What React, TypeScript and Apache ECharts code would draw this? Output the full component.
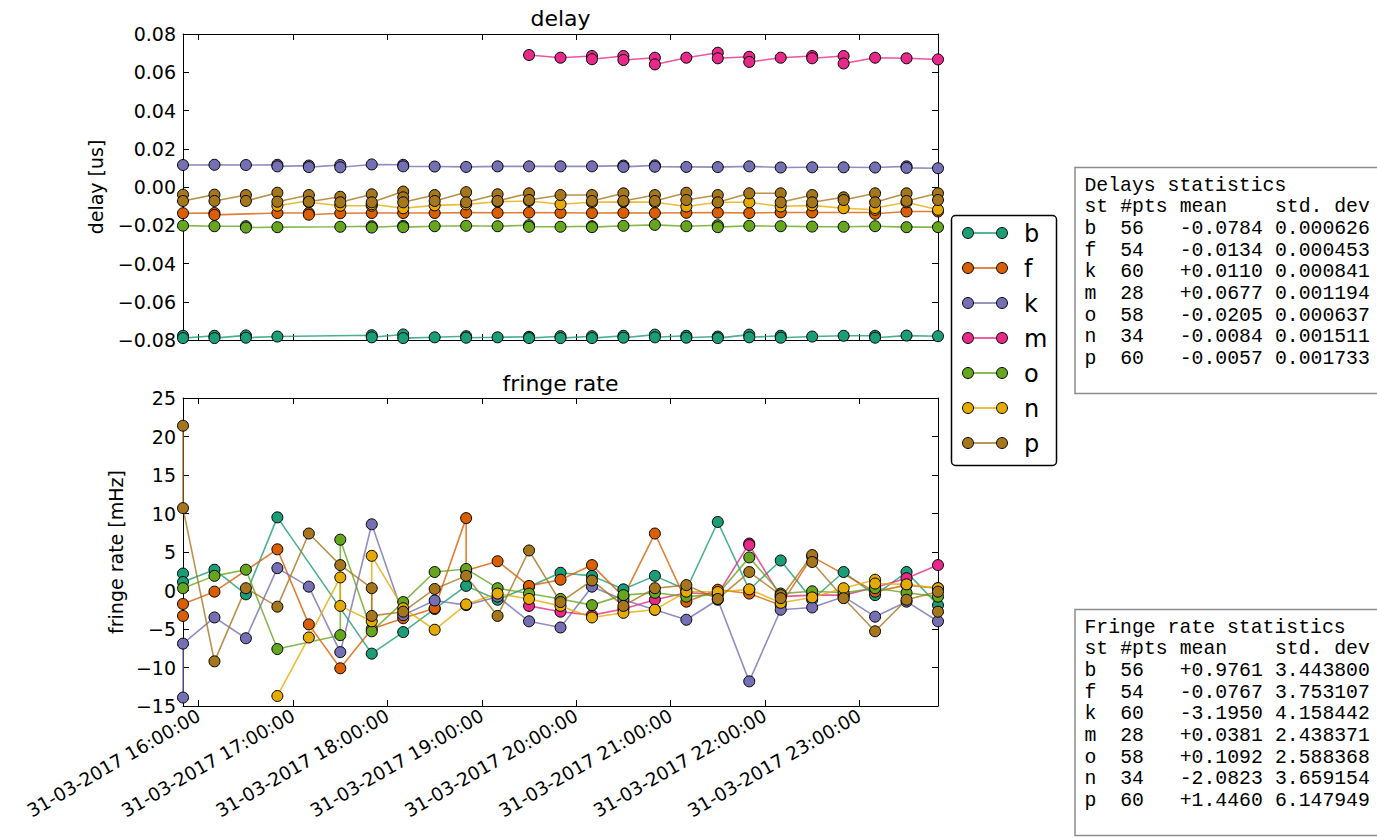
import React, { useEffect, useRef } from "react";
import * as echarts from "echarts";

const stations = ["b", "f", "k", "m", "o", "n", "p"];
const colors = ["#1b9e77", "#d95f02", "#7570b3", "#e7298a", "#66a61e", "#e6ab02", "#a6761d"];

const scanTimes = [
  "15:50", "16:10", "16:30", "16:50", "17:10", "17:30", "17:50", "18:10", "18:30",
  "18:50", "19:10", "19:30", "19:50", "20:10", "20:30", "20:50", "21:10", "21:30",
  "21:50", "22:10", "22:30", "22:50", "23:10", "23:30", "23:50",
];
const hourTicks = ["16:00", "17:00", "18:00", "19:00", "20:00", "21:00", "22:00", "23:00"];

type V = number | number[] | null;

const delayB: V[] = [[-0.0778, -0.079], [-0.0778, -0.079], [-0.0776, -0.0788], -0.0782, null, null, [-0.0775, -0.0786], [-0.0771, -0.079], -0.0786, [-0.078, -0.0788], -0.0786, [-0.0783, -0.079], [-0.078, -0.079], [-0.078, -0.079], [-0.0778, -0.0788], [-0.0772, -0.0786], [-0.0778, -0.0788], [-0.0782, -0.079], [-0.0772, -0.0786], [-0.0778, -0.0788], -0.0782, -0.0778, [-0.0778, -0.0788], -0.0777, -0.078];
const delayF: V[] = [-0.0137, [-0.0136, -0.0146], null, -0.0136, [-0.0136, -0.0145], -0.0137, -0.0136, -0.0136, -0.0136, -0.0134, -0.0135, -0.0134, -0.0135, -0.0136, -0.0135, -0.0136, -0.0135, -0.0134, -0.0136, -0.0133, -0.0133, null, [-0.0133, -0.014], -0.0128, -0.0128];
const delayK: V[] = [0.0115, 0.0116, 0.0115, [0.0116, 0.0108], [0.0112, 0.0104], [0.0115, 0.0103], 0.0118, [0.0116, 0.0108], 0.0107, 0.0105, 0.0108, 0.0108, 0.0108, 0.0108, [0.0112, 0.0105], [0.0113, 0.0106], 0.0105, 0.0104, 0.0108, 0.0102, 0.0103, 0.0103, 0.0102, [0.0108, 0.01], 0.0098];
const delayM: V[] = [null, null, null, null, null, null, null, null, null, null, null, 0.069, 0.0676, [0.0685, 0.0668], [0.0685, 0.0664], [0.0676, 0.0641], 0.0676, [0.0702, 0.0673], [0.0681, 0.0654], 0.0676, [0.0685, 0.0673], [0.0685, 0.0646], 0.0676, 0.0673, 0.0667];
const delayO: V[] = [-0.0202, -0.0205, [-0.0205, -0.0212], -0.021, null, -0.0208, [-0.0205, -0.0212], [-0.0203, -0.021], -0.0205, -0.0203, -0.0205, [-0.02, -0.0208], -0.0208, [-0.0205, -0.021], -0.0203, -0.0198, -0.0205, [-0.02, -0.021], -0.0203, -0.0205, -0.0207, -0.0208, -0.0205, -0.021, -0.021];
const delayN: V[] = [null, null, null, -0.0098, [-0.0072, -0.008], -0.0098, [-0.0098, -0.009], -0.0111, -0.0096, -0.0091, -0.0077, -0.0073, -0.009, -0.008, -0.0078, -0.008, -0.0102, -0.008, -0.008, -0.0102, -0.0096, -0.0111, [-0.0119, -0.011], -0.008, -0.0119];
const delayP: V[] = [[-0.004, -0.0073], [-0.004, -0.0073], [-0.0042, -0.0073], [-0.003, -0.0077], [-0.0042, -0.0077], [-0.0051, -0.008], [-0.0038, -0.008], [-0.0024, -0.0054, -0.008], [-0.0042, -0.0073], [-0.0027, -0.008], [-0.0038, -0.0073], [-0.0033, -0.0068], -0.0042, [-0.0042, -0.0073], [-0.0033, -0.0073], [-0.0042, -0.0073], [-0.003, -0.0068], [-0.0042, -0.008], -0.0033, [-0.0033, -0.008], [-0.0042, -0.008], [-0.0054, -0.0068], [-0.0033, -0.008], [-0.0033, -0.0073], [-0.0033, -0.0068]];

const fringeB: V[] = [[2.2, 1.1], 2.7, -0.5, 9.5, null, null, -8.2, -5.4, -2.4, 0.6, -1.2, 0.5, 2.3, 1.9, 0.15, 1.9, 0.1, 8.9, 0.1, 3.9, -1.2, 2.4, -0.6, 2.4, -1.9];
const fringeF: V[] = [[-3.3, -1.75], -0.15, null, 5.35, -4.4, -10.1, -5.0, -3.6, -2.3, [9.4, 2.6], 3.8, 0.6, 1.4, 3.3, -0.8, 7.4, -1.45, 0.1, -0.4, -1.9, 4.4, null, -0.15, 0.7, 0.3];
const fringeK: V[] = [[-13.9, -6.9], -3.5, -6.2, 2.9, 0.5, -8.0, 8.6, -3.2, -1.3, -1.9, -0.8, -4.0, -4.8, 0.5, -1.2, -2.5, -3.8, -1.2, -11.8, -2.5, -2.2, -0.8, -3.4, -1.45, -4.0];
const fringeM: V[] = [null, null, null, null, null, null, null, null, null, null, null, -2.0, -2.75, -3.2, -2.4, -1.2, -0.3, -0.5, [6.1, 5.9], -0.8, -0.6, -0.6, 0.4, 1.6, 3.3];
const fringeO: V[] = [0.3, 1.9, 2.7, -7.6, null, [-5.8, 6.6], -5.3, -1.5, 2.4, 2.8, 0.3, -0.4, -1.1, -1.9, -0.6, -0.3, -0.8, -0.5, 4.3, -0.4, -0.1, -0.3, 0.3, -0.3, -0.8];
const fringeN: V[] = [null, null, null, -13.7, -6.1, [1.7, -2.0], [-4.0, 4.5], -2.3, -5.1, -1.8, -0.4, -1.1, -2.0, -3.5, -2.9, -2.5, -0.15, -0.2, 0.15, -1.6, -0.9, 0.3, [1.4, 0.9], 0.8, 0.3];
const fringeP: V[] = [[21.4, 10.7], -9.2, 0.3, -2.1, 7.4, 3.3, [0.3, -3.3], -2.75, 0.2, 1.9, -3.3, 5.2, -1.5, 1.3, -2.0, 0.3, 0.7, -1.1, 2.4, [-0.6, -1.0], [4.6, 3.7], -1.0, -5.3, -1.2, [-0.15, -2.75]];

const delaySeries = [delayB, delayF, delayK, delayM, delayO, delayN, delayP];
const fringeSeries = [fringeB, fringeF, fringeK, fringeM, fringeO, fringeN, fringeP];

const statPts = ["56", "54", "60", "28", "58", "34", "60"];
const delayMeans = ["-0.0784", "-0.0134", "+0.0110", "+0.0677", "-0.0205", "-0.0084", "-0.0057"];
const delayStds = ["0.000626", "0.000453", "0.000841", "0.001194", "0.000637", "0.001511", "0.001733"];
const fringeMeans = ["+0.9761", "-0.0767", "-3.1950", "+0.0381", "+0.1092", "-2.0823", "+1.4460"];
const fringeStds = ["3.443800", "3.753107", "4.158442", "2.438371", "2.588368", "3.659154", "6.147949"];
const statHeader = ["st", "#pts", "mean", "std. dev"];
const statCols = [0, 3, 8, 16];

const FONT = "DejaVu Sans";
const MONO = "Liberation Mono";

const toMs = (hm: string) => {
  const [h, m] = hm.split(":").map(Number);
  return Date.UTC(2017, 2, 31, h, m, 0);
};
const pad = (n: number) => String(n).padStart(2, "0");
const fmtTime = (v: number) => {
  const d = new Date(v);
  return `${pad(d.getUTCDate())}-${pad(d.getUTCMonth() + 1)}-${d.getUTCFullYear()} ${pad(d.getUTCHours())}:${pad(d.getUTCMinutes())}:${pad(d.getUTCSeconds())}`;
};
const fmtNum = (dec: number) => (v: number) => {
  if (Math.abs(v) < 1e-9) return (0).toFixed(dec);
  return (v < 0 ? "\u2212" : "") + Math.abs(v).toFixed(dec);
};

const toPairs = (vals: V[]) => {
  const out: number[][] = [];
  vals.forEach((v, i) => {
    if (v === null) return;
    const arr = Array.isArray(v) ? v : [v];
    arr.forEach((y) => out.push([toMs(scanTimes[i]), y]));
  });
  return out;
};

const tMin = toMs(scanTimes[0]);
const tMax = toMs(scanTimes[scanTimes.length - 1]);
const tickVals = hourTicks.map(toMs);

const xAxisDef = (gridIndex: number, position: string, showLabels: boolean) => ({
  type: "value",
  gridIndex,
  position,
  min: tMin,
  max: tMax,
  axisLine: { show: true, onZero: false, lineStyle: { color: "#000", width: 1 } },
  axisTick: { show: true, inside: true, length: 6, customValues: tickVals, lineStyle: { color: "#000" } },
  axisLabel: {
    show: showLabels,
    customValues: tickVals,
    formatter: fmtTime,
    rotate: 30,
    fontSize: 18.5,
    fontFamily: FONT,
    color: "#000",
    margin: 8,
  },
  splitLine: { show: false },
});

const yAxisDef = (
  gridIndex: number,
  position: string,
  min: number,
  max: number,
  interval: number,
  dec: number,
  showLabels: boolean,
  name: string,
  nameGap: number
) => ({
  type: "value",
  gridIndex,
  position,
  min,
  max,
  interval,
  name: showLabels ? name : "",
  nameLocation: "middle",
  nameGap,
  nameRotate: 90,
  nameTextStyle: { fontSize: 19, fontFamily: FONT, color: "#000" },
  axisLine: { show: true, onZero: false, lineStyle: { color: "#000", width: 1 } },
  axisTick: { show: true, inside: true, length: 6, lineStyle: { color: "#000" } },
  axisLabel: { show: showLabels, formatter: fmtNum(dec), fontSize: 19, fontFamily: FONT, color: "#000", margin: 7 },
  splitLine: { show: false },
});

const mkSeries = (vals: V[], i: number, grid: number) => ({
  type: "line",
  name: stations[i],
  xAxisIndex: grid * 2,
  yAxisIndex: grid * 2,
  data: toPairs(vals),
  symbol: "circle",
  symbolSize: 11,
  showSymbol: true,
  showAllSymbol: true,
  lineStyle: { color: colors[i], width: 1.6, opacity: 0.8 },
  itemStyle: { color: colors[i], borderColor: "#000", borderWidth: 1 },
  emphasis: { disabled: true },
  silent: true,
});

const legendGraphic = () => {
  const children: any[] = [
    { type: "rect", shape: { x: 951.5, y: 215.5, width: 105, height: 250, r: 4 }, style: { fill: "#fff", stroke: "#000", lineWidth: 1.5 } },
  ];
  stations.forEach((s, i) => {
    const y = 233 + i * 35;
    children.push({ type: "line", shape: { x1: 968, y1: y, x2: 1002, y2: y }, style: { stroke: colors[i], lineWidth: 1.5 } });
    children.push({ type: "circle", shape: { cx: 968, cy: y, r: 5.5 }, style: { fill: colors[i], stroke: "#000", lineWidth: 1 } });
    children.push({ type: "circle", shape: { cx: 1002, cy: y, r: 5.5 }, style: { fill: colors[i], stroke: "#000", lineWidth: 1 } });
    children.push({ type: "text", x: 1024, y: y + 1, style: { text: s, fontSize: 24, fontFamily: FONT, fill: "#000", textVerticalAlign: "middle", verticalAlign: "middle" } });
  });
  return { type: "group", children };
};

const statsGraphic = (top: number, title: string, means: string[], stds: string[]) => {
  const charW = 11.9;
  const x0 = 1084.5;
  const rowY = (r: number) => top + 18 + r * 21.7;
  const txt = (x: number, y: number, t: string) => ({
    type: "text",
    x,
    y,
    style: { text: t, fontSize: 19.8, fontFamily: MONO, fill: "#000", verticalAlign: "middle", textVerticalAlign: "middle" },
  });
  const children: any[] = [
    { type: "rect", shape: { x: 1075, y: top, width: 320, height: 226 }, style: { fill: "#fff", stroke: "#8c8c8c", lineWidth: 1.5 } },
    txt(x0, rowY(0), title),
  ];
  statHeader.forEach((h, c) => children.push(txt(x0 + statCols[c] * charW, rowY(1), h)));
  stations.forEach((s, i) => {
    const row = [s, statPts[i], means[i], stds[i]];
    row.forEach((cell, c) => children.push(txt(x0 + statCols[c] * charW, rowY(2 + i), cell)));
  });
  return { type: "group", children };
};

const titleText = (x: number, y: number, t: string) => ({
  type: "text",
  x,
  y,
  style: { text: t, fontSize: 22, fontFamily: FONT, fill: "#000", align: "center", textAlign: "center", verticalAlign: "middle", textVerticalAlign: "middle" },
});

const option: any = {
  animation: false,
  backgroundColor: "#fff",
  grid: [
    { left: 183, top: 34, width: 755, height: 306 },
    { left: 183, top: 398, width: 755, height: 308 },
  ],
  xAxis: [
    xAxisDef(0, "bottom", false),
    xAxisDef(0, "top", false),
    xAxisDef(1, "bottom", true),
    xAxisDef(1, "top", false),
  ],
  yAxis: [
    yAxisDef(0, "left", -0.08, 0.08, 0.02, 2, true, "delay [us]", 78),
    yAxisDef(0, "right", -0.08, 0.08, 0.02, 2, false, "", 0),
    yAxisDef(1, "left", -15, 25, 5, 0, true, "fringe rate [mHz]", 56),
    yAxisDef(1, "right", -15, 25, 5, 0, false, "", 0),
  ],
  series: [
    ...delaySeries.map((v, i) => mkSeries(v, i, 0)),
    ...fringeSeries.map((v, i) => mkSeries(v, i, 1)),
  ],
  graphic: [
    titleText(560.5, 18, "delay"),
    titleText(560.5, 383, "fringe rate"),
    legendGraphic(),
    statsGraphic(167.5, "Delays statistics", delayMeans, delayStds),
    statsGraphic(609.5, "Fringe rate statistics", fringeMeans, fringeStds),
  ],
};

export default function App() {
  const ref = useRef<HTMLDivElement>(null);
  useEffect(() => {
    const chart = echarts.init(ref.current as HTMLDivElement, null, { renderer: "svg" });
    chart.setOption(option);
    return () => chart.dispose();
  }, []);
  return (
    <div
      ref={ref}
      style={{ position: "fixed", left: 0, top: 0, width: 1377, height: 839, background: "#fff" }}
    />
  );
}
